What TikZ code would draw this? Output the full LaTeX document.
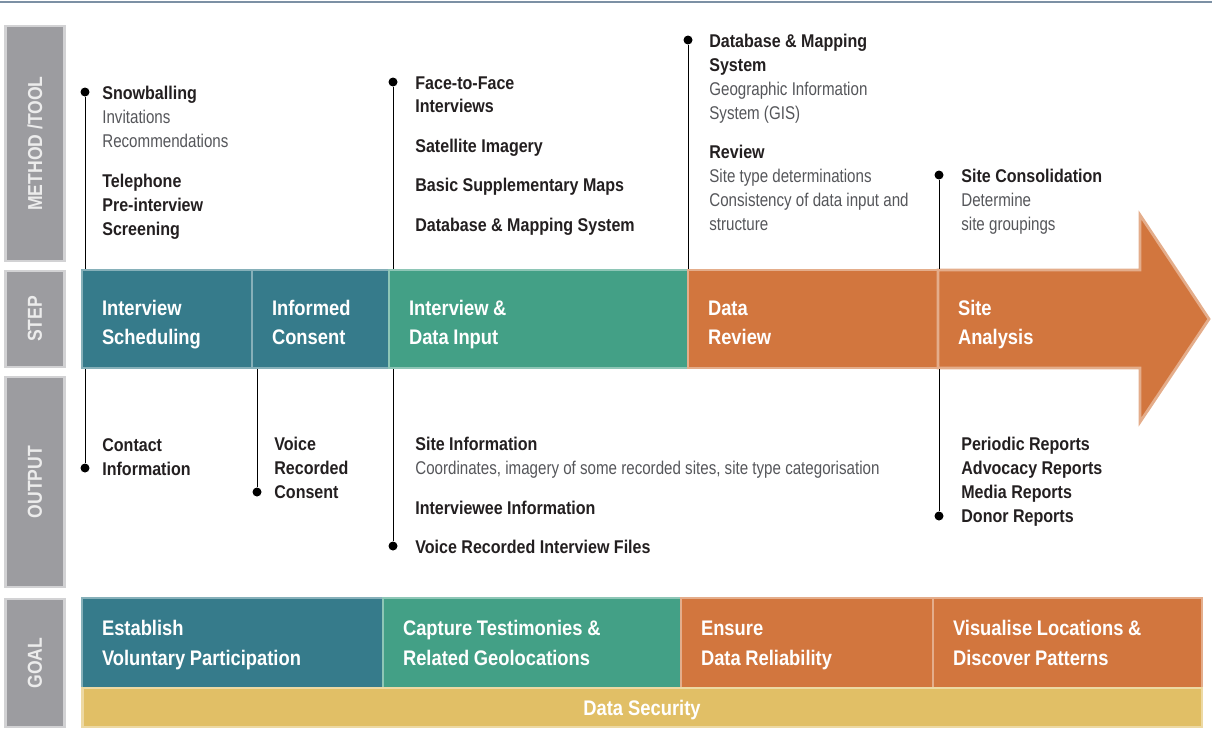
\documentclass[tikz,border=0pt]{standalone}
\usepackage{fontspec}
\setmainfont[FakeStretch=0.82,BoldFeatures={FakeStretch=0.87}]{Liberation Sans}
\usetikzlibrary{positioning}

\definecolor{tealc}{HTML}{367B8B}
\definecolor{greenc}{HTML}{43A086}
\definecolor{orangec}{HTML}{D2763E}
\definecolor{yellowc}{HTML}{E1BF66}
\definecolor{labelc}{HTML}{9C9CA0}
\definecolor{labeltxt}{HTML}{ECECEC}
\definecolor{topline}{HTML}{7C90A4}
\definecolor{hddark}{HTML}{231F20}
\definecolor{subgray}{HTML}{55565A}

\newcommand{\hdr}[1]{\textbf{\color{hddark}#1}}

\tikzset{
  sidelabel/.style={rectangle, fill=labelc, draw=labelc!45!white, line width=1.6pt,
    rotate=90, minimum height=1.18cm, text=labeltxt,
    font=\fontsize{11.5}{13}\selectfont\bfseries},
  stepbox/.style={rectangle, fill=#1, draw=#1!60!white, line width=1.6pt,
    text=white, align=left, inner xsep=0.4cm, text depth=12.7pt,
    execute at begin node={\spaceskip=0.22em plus 0.05em},
    font=\fontsize{12}{16.5}\selectfont\bfseries},
  goalbox/.style={stepbox=#1, text depth=17pt, font=\fontsize{12}{17}\selectfont\bfseries},
  info/.style={anchor=north west, align=left, inner sep=0, text=subgray,
    font=\fontsize{10.5}{13.6}\selectfont, execute at begin node=\strut},
  dot/.style={circle, fill=black, inner sep=0, minimum size=0.18cm},
}

\begin{document}
\begin{tikzpicture}[x=0.02cm, y=-0.02cm]
  \useasboundingbox (0,0) rectangle (1212,747);
  \draw[topline, line width=0.06cm] (0,2) -- (1212,2);

  % Side labels
  \node (l-method) [sidelabel, minimum width=4.7cm] at (35,143.5) {METHOD /TOOL};
  \node (l-step) [sidelabel, minimum width=1.92cm] at (35,319) {STEP};
  \node (l-output) [sidelabel, minimum width=4.2cm] at (35,482) {OUTPUT};
  \node (l-goal) [sidelabel, minimum width=2.56cm] at (35,663) {GOAL};

  % Dots
  \node (d-1) [dot] at (85,92) {};
  \node (d-2) [dot] at (85,468) {};
  \node (d-3) [dot] at (257,492) {};
  \node (d-4) [dot] at (393,82) {};
  \node (d-5) [dot] at (393,546) {};
  \node (d-6) [dot] at (688,40) {};
  \node (d-7) [dot] at (939,175) {};
  \node (d-8) [dot] at (939,516) {};

  % Lines
  \draw (d-1) -- (d-2);

  % Steps
  \node (sched) [stepbox=tealc, minimum width=3.4cm, minimum height=1.96cm, text width=2.6cm] at (167,319) {Interview\\Scheduling};
  \node (consent) [stepbox=tealc, minimum width=2.74cm, minimum height=1.96cm, text width=1.94cm] at (320.5,319) {Informed\\Consent};
  \node (input) [stepbox=greenc, minimum width=5.98cm, minimum height=1.96cm, text width=5.18cm] at (538.5,319) {Interview \&\\Data Input};
  \node (review) [stepbox=orangec, minimum width=5cm, minimum height=1.96cm, text width=4.2cm] at (813,319) {Data\\Review};
  \draw[fill=orangec, draw=orangec!60!white, line width=1.6pt]
    (938,270) -- (1140,270) -- (1140,215) -- (1209,319) -- (1140,422) -- (1140,368) -- (938,368) -- cycle;
  \node (analysis) [stepbox=orangec, draw=none, fill=none, minimum width=4.04cm, minimum height=1.96cm, text width=3.24cm] at (1039,319) {Site\\Analysis};

  % Arrow
  \draw (d-3) -- (d-3 |- consent.south);
  \draw (d-4) -- (d-4 |- input.north);
  \draw (d-5) -- (d-5 |- input.south);
  \draw (d-6) -- (d-6 |- review.north);
  \draw (d-7) -- (d-7 |- analysis.north);
  \draw (d-8) -- (d-8 |- analysis.south);

  % Goals
  \node (g-1) [goalbox=tealc, minimum width=6.02cm, minimum height=1.8cm, text width=5.22cm] at (232.5,643) {Establish\\Voluntary Participation};
  \node (g-2) [goalbox=greenc, minimum width=5.96cm, minimum height=1.8cm, text width=5.16cm] at (532,643) {Capture Testimonies \&\\Related Geolocations};
  \node (g-3) [goalbox=orangec, minimum width=5.04cm, minimum height=1.8cm, text width=4.24cm] at (807,643) {Ensure\\Data Reliability};
  \node (g-4) [goalbox=orangec, minimum width=5.38cm, minimum height=1.8cm, text width=4.58cm] at (1067.5,643) {Visualise Locations \&\\Discover Patterns};
  \node (security) [rectangle, fill=yellowc, draw=yellowc!60!white, line width=1.6pt, text=white, minimum width=22.4cm, minimum height=0.78cm, text depth=0pt, font=\fontsize{12}{14}\selectfont\bfseries] at (642,707.5) {Data Security};

  % Method / tool
  \node (m-1) [info] at (102,86) {\hdr{Snowballing}\\Invitations\\Recommendations\\[0.32cm]\hdr{Telephone}\\\hdr{Pre-interview}\\\hdr{Screening}};
  \node (m-2) [info] at (415,76) {\hdr{Face-to-Face}\\\hdr{Interviews}\\[0.31cm]\hdr{Satellite Imagery}\\[0.31cm]\hdr{Basic Supplementary Maps}\\[0.31cm]\hdr{Database \& Mapping System}};
  \node (m-3) [info] at (709,34) {\hdr{Database \& Mapping}\\\hdr{System}\\Geographic Information\\System (GIS)\\[0.31cm]\hdr{Review}\\Site type determinations\\Consistency of data input and\\structure};
  \node (m-4) [info] at (961,169) {\hdr{Site Consolidation}\\Determine\\site groupings};

  % Output
  \node (o-1) [info] at (102,438) {\hdr{Contact}\\\hdr{Information}};
  \node (o-2) [info] at (274,437) {\hdr{Voice}\\\hdr{Recorded}\\\hdr{Consent}};
  \node (o-3) [info] at (415,437) {\hdr{Site Information}\\Coordinates, imagery of some recorded sites, site type categorisation\\[0.32cm]\hdr{Interviewee Information}\\[0.31cm]\hdr{Voice Recorded Interview Files}};
  \node (o-4) [info] at (961,437) {\hdr{Periodic Reports}\\\hdr{Advocacy Reports}\\\hdr{Media Reports}\\\hdr{Donor Reports}};
\end{tikzpicture}
\end{document}
